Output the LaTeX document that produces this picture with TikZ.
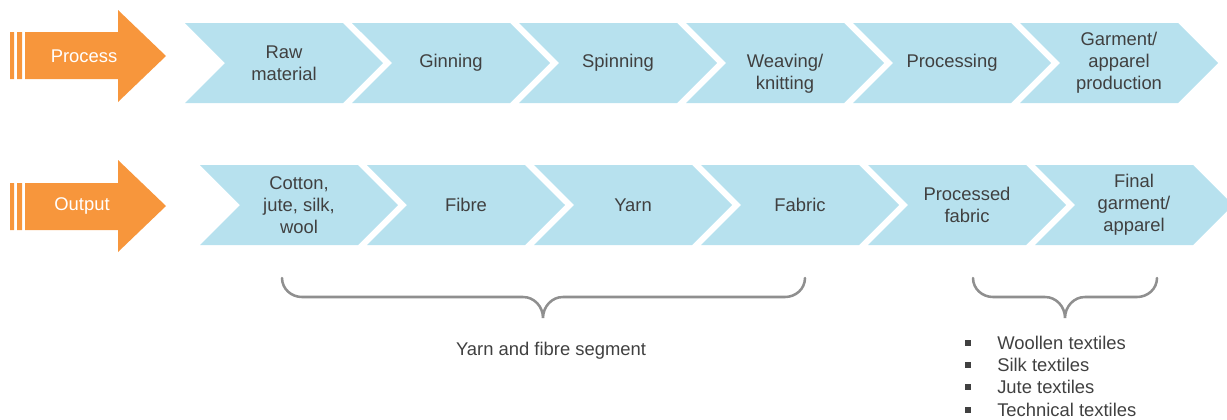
\documentclass[tikz,border=0pt]{standalone}
\usepackage{fontspec}
\setmainfont{Liberation Sans}
\usepackage{tikz}
\usetikzlibrary{shapes.symbols}
\definecolor{ourorange}{HTML}{F7963C}
\definecolor{ourlightblue}{HTML}{B7E1EE}
\definecolor{ourtext}{HTML}{404040}
\definecolor{ourgray}{HTML}{8F8F8F}
\newcommand{\chainfont}{\fontsize{13.8}{16.5}\selectfont}

\begin{document}
\begin{tikzpicture}[x=0.75pt,y=-0.75pt]

  \tikzstyle{stage}=[shape=signal, signal from=west, signal to=east,
                     signal pointer angle=90, fill=ourlightblue,
                     minimum width=148.5pt, minimum height=60pt,
                     inner sep=0pt, align=center, text=ourtext,
                     font=\chainfont]
  \tikzstyle{arrowlabel}=[text=white, font=\chainfont]
  \tikzstyle{brace}=[draw=ourgray, line width=1.9pt, line cap=round]
  \tikzstyle{note}=[text=ourtext, font=\chainfont]
  \tikzstyle{bullet}=[fill=ourtext, minimum size=3.9pt, inner sep=0pt]
  \tikzstyle{item}=[anchor=west, text=ourtext, font=\chainfont, inner sep=0pt]

  \useasboundingbox (0,0) rectangle (1227,419);

  % orange row markers
  \fill[ourorange] (10,32) rectangle (14,79) (17,32) rectangle (22,79);
  \fill[ourorange] (25,32) -- (118,32) -- (118,10) -- (166,56)
                   -- (118,102) -- (118,79) -- (25,79) -- cycle;
  \fill[ourorange] (10,183) rectangle (14,230) (17,183) rectangle (22,230);
  \fill[ourorange] (25,183) -- (118,183) -- (118,160) -- (166,206)
                   -- (118,252) -- (118,230) -- (25,230) -- cycle;

  \path
  (84,56)  node[arrowlabel](process){Process}
  (82,206) node[arrowlabel](output){Output};

  \path
  (284, 63) node[stage](raw){Raw\\material}
  (451, 63) node[stage](gin){Ginning}
  (618, 63) node[stage](spin){Spinning}
  (785, 63) node[stage](weave){\vphantom{W}\\Weaving/\\knitting}
  (952, 63) node[stage](proc){Processing}
  (1119,63) node[stage](garm){Garment/\\apparel\\production};

  \path
  (299, 205) node[stage](cotton){Cotton,\\jute, silk,\\wool}
  (466, 205) node[stage](fibre){Fibre}
  (633, 205) node[stage](yarn){Yarn}
  (800, 205) node[stage](fabric){Fabric}
  (967, 205) node[stage](pfabric){Processed\\fabric}
  (1134,205) node[stage](final){Final\\garment/\\apparel};

  % braces
  \coordinate (yftip) at (543,318);
  \coordinate (textip) at (1065,318);
  \draw[brace] (282,278) to[out=-90,in=180] (302,297) -- (523,297)
               to[out=0,in=90] (yftip) to[out=90,in=180] (563,297)
               -- (785,297) to[out=0,in=-90] (805,278);
  \draw[brace] (973,278) to[out=-90,in=180] (993,297) -- (1045,297)
               to[out=0,in=90] (textip) to[out=90,in=180] (1085,297)
               -- (1137,297) to[out=0,in=-90] (1157,278);

  \path (551,351) node[note](segment){Yarn and fibre segment};

  \path
  (968,343) node[bullet](b1){}
  (968,365) node[bullet](b2){}
  (968,387) node[bullet](b3){}
  (968,410) node[bullet](b4){};
  \path
  (997,343) node[item](wool){Woollen textiles}
  (997,365) node[item](silk){Silk textiles}
  (997,387) node[item](jute){Jute textiles}
  (997,410) node[item](tech){Technical textiles};

\end{tikzpicture}
\end{document}
